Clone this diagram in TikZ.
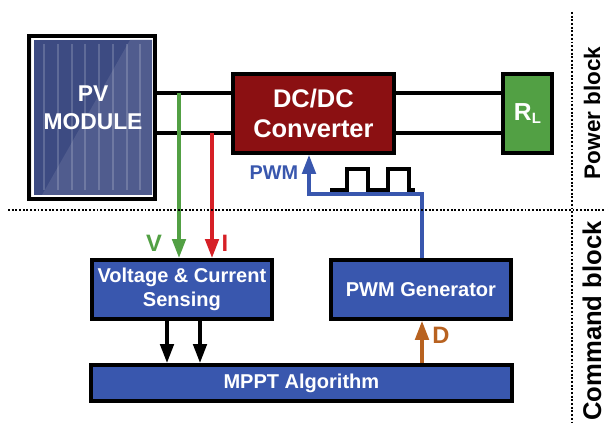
\documentclass[tikz,border=0pt]{standalone}
\usepackage{xcolor}
\usepackage{fontspec}
\usepackage{tikz}
\usetikzlibrary{arrows.meta}
\setmainfont{Liberation Sans}
\definecolor{panelblue}{RGB}{61, 75, 130}
\definecolor{panellight}{RGB}{80, 92, 142}
\definecolor{framegray}{RGB}{235, 235, 235}
\definecolor{convred}{RGB}{139, 16, 18}
\definecolor{loadgreen}{RGB}{82, 160, 68}
\definecolor{boxblue}{RGB}{57, 87, 174}
\definecolor{sensered}{RGB}{214, 32, 38}
\definecolor{dutybrown}{RGB}{184, 98, 32}
\tikzset{
	blockbox/.style={draw=black, line width=2.2pt, fill=boxblue, text=white, font=\bfseries\fontsize{11.4}{13.6}\selectfont, align=center, inner sep=0pt, anchor=north west},
	wireline/.style={draw=black, line width=1.9pt},
	sigarrow/.style={line width=1.9pt, -{Triangle[length=3.8mm, width=2.7mm]}},
	sublabel/.style={font=\bfseries\fontsize{13.5}{16}\selectfont},
	sideline/.style={black, line width=1.1pt, densely dotted},
	sidelabel/.style={font=\bfseries, rotate=90}
}
\begin{document}
\begin{tikzpicture}[x=0.02cm, y=-0.02cm]
	\useasboundingbox (0, 0) rectangle (605, 425);

	% PV MODULE
	\node[draw=black, line width=2.2pt, fill=framegray, minimum width=2.52cm, minimum height=3.26cm, inner sep=0pt, anchor=north west] (pv) at (27, 34) {};
	\fill[white] (32, 38) rectangle (153, 197);
	\fill[panelblue] (34, 40) rectangle (152, 195);
	\fill[panellight] (130, 40) -- (152, 40) -- (152, 195) -- (42, 195) -- cycle;
	\foreach \xpos in {44, 58, 72, 85, 99, 113, 127, 140}
		\draw[white, opacity=0.18, line width=1.2pt] (\xpos, 44) -- (\xpos, 190);
	\node[white, font=\bfseries\fontsize{13}{15.9}\selectfont, align=center] (pvtext) at (93, 108) {PV\\MODULE};

	% POWER STAGE
	\node[draw=black, line width=2.2pt, fill=convred, text=white, font=\bfseries\fontsize{14.5}{17.6}\selectfont, align=center, minimum width=3.22cm, minimum height=1.58cm, inner sep=0pt, anchor=north west] (conv) at (231, 72) {DC/DC\\Converter};
	\node[draw=black, line width=2.2pt, fill=loadgreen, text=white, font=\bfseries\fontsize{14}{17}\selectfont, minimum width=0.98cm, minimum height=1.58cm, inner sep=0pt, anchor=north west] (load) at (501, 72) {R\raisebox{-0.2ex}{\fontsize{8.5}{10}\selectfont L}};

	% WIRES
	\coordinate (topleft) at (pv.east |- 0, 93);
	\coordinate (botleft) at (pv.east |- 0, 133);
	\draw[wireline] (topleft) -- (conv.west |- topleft);
	\draw[wireline] (botleft) -- (conv.west |- botleft);
	\draw[wireline] (conv.east |- topleft) -- (load.west |- topleft);
	\draw[wireline] (conv.east |- botleft) -- (load.west |- botleft);

	% COMMAND STAGE
	\node[blockbox, minimum width=3.6cm, minimum height=1.18cm] (sense) at (90, 258) {Voltage \& Current\\Sensing};
	\node[blockbox, minimum width=3.6cm, minimum height=1.18cm] (pwmgen) at (329, 258) {PWM Generator};
	\node[blockbox, minimum width=8.42cm, minimum height=0.72cm] (mppt) at (89, 363) {MPPT Algorithm};

	% SENSE ARROWS
	\coordinate (vtap) at (179, 93);
	\coordinate (itap) at (212, 133);
	\draw[sigarrow, loadgreen] (vtap) -- (vtap |- sense.north);
	\draw[sigarrow, sensered] (itap) -- (itap |- sense.north);
	\node[sublabel, text=loadgreen] (vlabel) at (154, 243) {V};
	\node[sublabel, text=sensered] (ilabel) at (225, 243) {I};

	% ARROWS TO MPPT
	\draw[sigarrow, black] (167, 0 |- sense.south) -- (167, 0 |- mppt.north);
	\draw[sigarrow, black] (200, 0 |- sense.south) -- (200, 0 |- mppt.north);

	% DUTY
	\draw[sigarrow, dutybrown] (422, 0 |- mppt.north) -- (422, 0 |- pwmgen.south);
	\node[sublabel, text=dutybrown] (dlabel) at (441, 335) {D};

	% PWM FEEDBACK
	\coordinate (pwmout) at (422, 0 |- pwmgen.north);
	\draw[sigarrow, boxblue] (pwmout) |- (309, 194) -- (309, 0 |- conv.south);
	\node[text=boxblue, font=\bfseries\fontsize{11.3}{14}\selectfont] (pwmlabel) at (274, 173) {PWM};
	\draw[black, line width=1.9pt] (330, 190) -- (347, 190) -- (347, 169) -- (368, 169) -- (368, 190) -- (388, 190) -- (388, 169) -- (409, 169) -- (409, 190) -- (415, 190);

	% BLOCK BORDERS
	\draw[sideline] (8, 210) -- (605, 210);
	\draw[sideline] (572, 12) -- (572, 423);
	\node[sidelabel, font=\bfseries\fontsize{12.8}{15}\selectfont] (powertext) at (592, 113) {Power block};
	\node[sidelabel, font=\bfseries\fontsize{14.6}{17}\selectfont] (commandtext) at (592, 321) {Command block};
\end{tikzpicture}
\end{document}
